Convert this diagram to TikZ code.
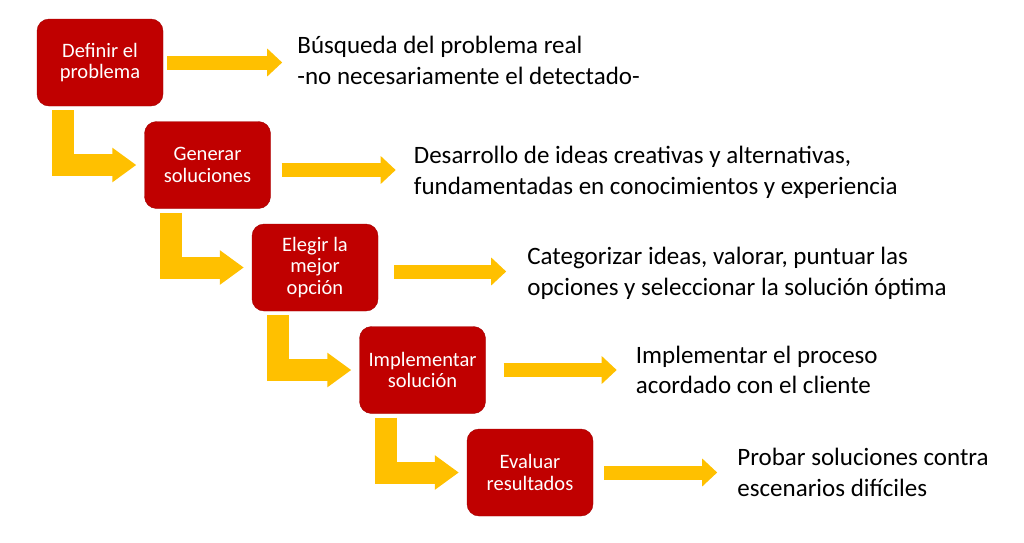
\documentclass[tikz,border=0pt]{standalone}
\usepackage{fontspec}
\setmainfont{Carlito}
\usetikzlibrary{positioning, arrows.meta}
\definecolor{boxred}{RGB}{192,0,0}
\definecolor{flowyellow}{RGB}{255,192,0}
\tikzset{
	x=1pt, y=-1pt, % pixel-like coordinates, y pointing down
	stage/.style={rectangle, rounded corners=12pt, fill=boxred, draw=boxred!85!black, text=white, minimum width=126pt, minimum height=87pt, align=center, inner sep=2pt, font=\fontsize{20.5}{21.5}\selectfont}, % the red steps
	desc/.style={align=left, inner sep=0pt, font=\fontsize{25}{30.5}\selectfont}, % text on the right
	flow/.style={draw=flowyellow, line width=14pt, -{Triangle[width=27pt,length=15pt]}}, % straight arrows
	turn/.style={draw=flowyellow, line width=22pt, line join=miter, shorten >=8pt, -{Triangle[width=33pt,length=24pt]}}, % bent arrows
}

\begin{document}
\begin{tikzpicture}
	\useasboundingbox (0,0) rectangle (1024,542);
	% the five steps, going down the stairs
	\node[stage] (Definir) at (100,62.5) {Definir el\\problema};
	\node[stage, on grid, below right=102.5pt and 107.5pt of Definir] (Generar) {Generar\\soluciones};
	\node[stage, on grid, below right=102.5pt and 107.5pt of Generar] (Elegir) {Elegir la\\mejor\\opción};
	\node[stage, on grid, below right=102.5pt and 107.5pt of Elegir] (Implementar) {Implementar\\solución};
	\node[stage, on grid, below right=102.5pt and 107.5pt of Implementar] (Evaluar) {Evaluar\\resultados};

	% what each step means
	\node[desc, right=134pt of Definir, yshift=2pt] (Busqueda) {Búsqueda del problema real\\-no necesariamente el detectado-};
	\node[desc, right=143pt of Generar, yshift=-7.5pt] (Desarrollo) {Desarrollo de ideas creativas y alternativas,\\fundamentadas en conocimientos y experiencia};
	\node[desc, right=149pt of Elegir, yshift=-6pt] (Categorizar) {Categorizar ideas, valorar, puntuar las\\opciones y seleccionar la solución óptima};
	\node[desc, right=150pt of Implementar, yshift=0pt] (Proceso) {Implementar el proceso\\acordado con el cliente};
	\node[desc, right=144pt of Evaluar, yshift=0pt] (Probar) {Probar soluciones contra\\escenarios difíciles};

	%% straight arrows
	\draw[flow, shorten <=4pt, shorten >=15pt] (Definir.east) -- (Definir.east -| Busqueda.west);
	\draw[flow, shorten <=11pt, shorten >=18pt] ([yshift=-5pt]Generar.east) -- ([yshift=-5pt]Generar.east -| Desarrollo.west);
	\draw[flow, shorten <=16pt, shorten >=21pt] ([yshift=-4pt]Elegir.east) -- ([yshift=-4pt]Elegir.east -| Categorizar.west);
	\draw[flow, shorten <=18pt, shorten >=19pt] (Implementar.east) -- (Implementar.east -| Proceso.west);
	\draw[flow, shorten <=11pt, shorten >=20pt] (Evaluar.east) -- (Evaluar.east -| Probar.west);

	%% bent arrows down to the next step
	\draw[turn] ([xshift=26.5pt,yshift=-4pt]Definir.south west) |- (Generar.west);
	\draw[turn] ([xshift=26.5pt,yshift=-4pt]Generar.south west) |- (Elegir.west);
	\draw[turn] ([xshift=26.5pt,yshift=-4pt]Elegir.south west) |- (Implementar.west);
	\draw[turn] ([xshift=26.5pt,yshift=-4pt]Implementar.south west) |- (Evaluar.west);
\end{tikzpicture}
\end{document}
